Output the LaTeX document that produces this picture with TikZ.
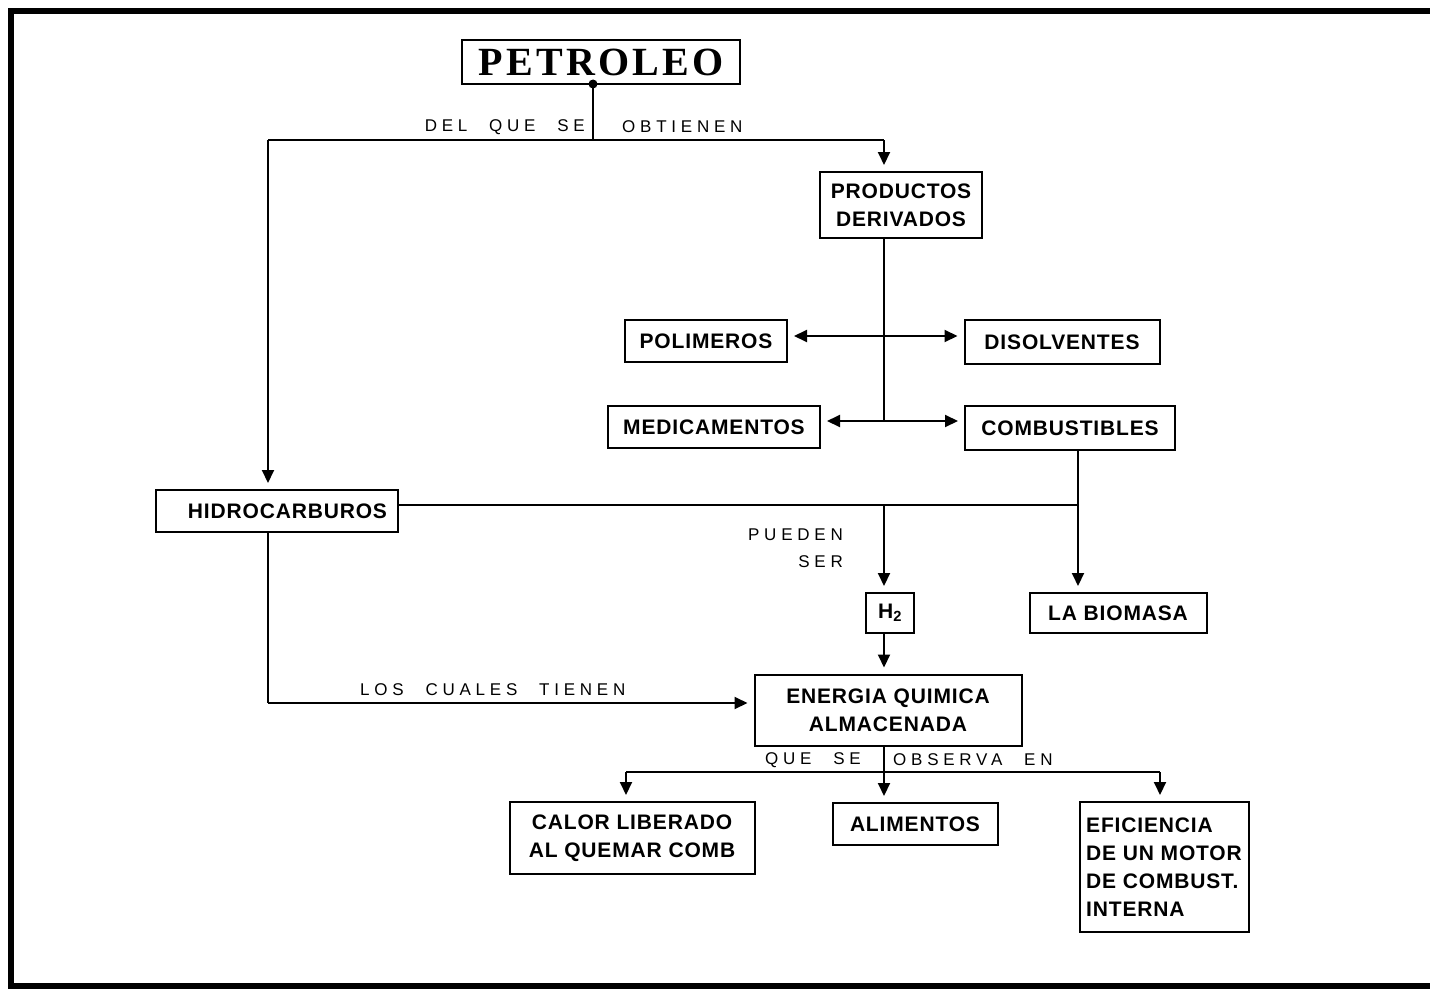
\documentclass[tikz,border=0pt]{standalone}
\usepackage{fontspec}
\setmainfont{Liberation Sans}
\newfontfamily\boxfam{Liberation Sans}[LetterSpace=4]
\newfontfamily\labfam{Liberation Sans}[LetterSpace=28,WordSpace=2.3]
\newfontfamily\titfam{Liberation Serif}[LetterSpace=8]
\usetikzlibrary{arrows.meta}
\tikzset{
  box/.style={draw, line width=2pt, inner sep=0pt, align=center,
    font=\boxfam\bfseries\fontsize{21}{28}\selectfont},
  lab/.style={inner sep=0pt, font=\labfam\fontsize{17}{27}\selectfont},
  conn/.style={line width=2pt},
  arr/.style={conn, -{Triangle[length=13pt,width=12pt]}, shorten >=6pt},
  darr/.style={conn, {Triangle[length=13pt,width=12pt]}-{Triangle[length=13pt,width=12pt]}, shorten >=6pt, shorten <=6pt},
  frame/.style={line width=6pt}
}
\begin{document}
\begin{tikzpicture}[x=1pt,y=-1pt]
\useasboundingbox (0,0) rectangle (1430,990);
% frame
\draw[frame] (1430,11) -- (11,11) -- (11,986) -- (1430,986);
% nodes
\node[box, minimum width=278pt, minimum height=44pt, font=\titfam\bfseries\fontsize{40}{44}\selectfont] (petro) at (601,62) {PETROLEO};
\node[box, minimum width=162pt, minimum height=66pt] (prod) at (901,205) {PRODUCTOS\\DERIVADOS};
\node[box, minimum width=162pt, minimum height=42pt] (poli) at (706,341) {POLIMEROS};
\node[box, minimum width=195pt, minimum height=44pt] (disol) at (1062,342) {DISOLVENTES};
\node[box, minimum width=212pt, minimum height=42pt] (medic) at (714,427) {MEDICAMENTOS};
\node[box, minimum width=210pt, minimum height=44pt] (comb) at (1070,428) {COMBUSTIBLES};
\node[box, minimum width=242pt, minimum height=42pt, text width=220pt, align=right] (hidro) at (277,511) {HIDROCARBUROS};
\node[box, minimum width=48pt, minimum height=40pt] (h2) at (890,613) {H\textsubscript{2}};
\node[box, minimum width=177pt, minimum height=40pt] (bio) at (1118,613) {LA BIOMASA};
\node[box, minimum width=267pt, minimum height=71pt] (energ) at (888,710) {ENERGIA QUIMICA\\ALMACENADA};
\node[box, minimum width=245pt, minimum height=72pt] (calor) at (632,838) {CALOR LIBERADO\\AL QUEMAR COMB};
\node[box, minimum width=165pt, minimum height=42pt] (alim) at (915,824) {ALIMENTOS};
\node[box, minimum width=169pt, minimum height=130pt, align=left] (efic) at (1164,867) {EFICIENCIA\\DE UN MOTOR\\DE COMBUST.\\INTERNA};
% labels
\node[lab, anchor=east] (l1) at (585,127) {DEL QUE SE};
\node[lab, anchor=west] (l2) at (622,127) {OBTIENEN};
\node[lab, anchor=east] (l3) at (843,535) {PUEDEN};
\node[lab, anchor=east] (l4) at (843,562) {SER};
\node[lab, anchor=west] (l5) at (360,690) {LOS CUALES TIENEN};
\node[lab, anchor=west] (l6) at (765,760) {QUE SE};
\node[lab, anchor=west] (l7) at (893,760) {OBSERVA EN};
% coordinates
\coordinate (pd) at (593,84);
\coordinate (pj) at (593,140);
\coordinate (hl) at (268,140);
\coordinate (pr) at (884,140);
\coordinate (pv) at (884,238);
\coordinate (pe) at (884,421);
\coordinate (hx) at (398,505);
\coordinate (hh) at (884,505);
\coordinate (hc) at (1078,505);
\coordinate (cb) at (1078,450);
\coordinate (hd) at (268,532);
\coordinate (hb) at (268,703);
\coordinate (es) at (884,745);
\coordinate (ej) at (884,772);
\coordinate (el) at (626,772);
\coordinate (er) at (1160,772);
% connectors
\fill (pd) circle (4.5pt);
\draw[conn] (pd) -- (pj);
\draw[conn] (hl) -- (pr);
\draw[arr] (hl) -- (hl |- hidro.north);
\draw[arr] (pr) -- (pr |- prod.north);
\draw[conn] (pv) -- (pe);
\draw[darr] ([yshift=5pt]poli.east) -- ([yshift=5pt]poli.east -| disol.west);
\draw[darr] ([yshift=6pt]medic.east) -- ([yshift=6pt]medic.east -| comb.west);
\draw[conn] (hx) -- (hc);
\draw[conn] (cb) -- (hc);
\draw[arr] (hc) -- (hc |- bio.north);
\draw[arr] (hh) -- (hh |- h2.north);
\draw[arr] (hh |- h2.south) -- (hh |- energ.north);
\draw[conn] (hd) -- (hb);
\draw[arr] (hb) -- (hb -| energ.west);
\draw[conn] (es) -- (ej);
\draw[conn] (el) -- (er);
\draw[arr] (el) -- (el |- calor.north);
\draw[arr] (ej) -- (ej |- alim.north);
\draw[arr] (er) -- (er |- efic.north);
\end{tikzpicture}
\end{document}
